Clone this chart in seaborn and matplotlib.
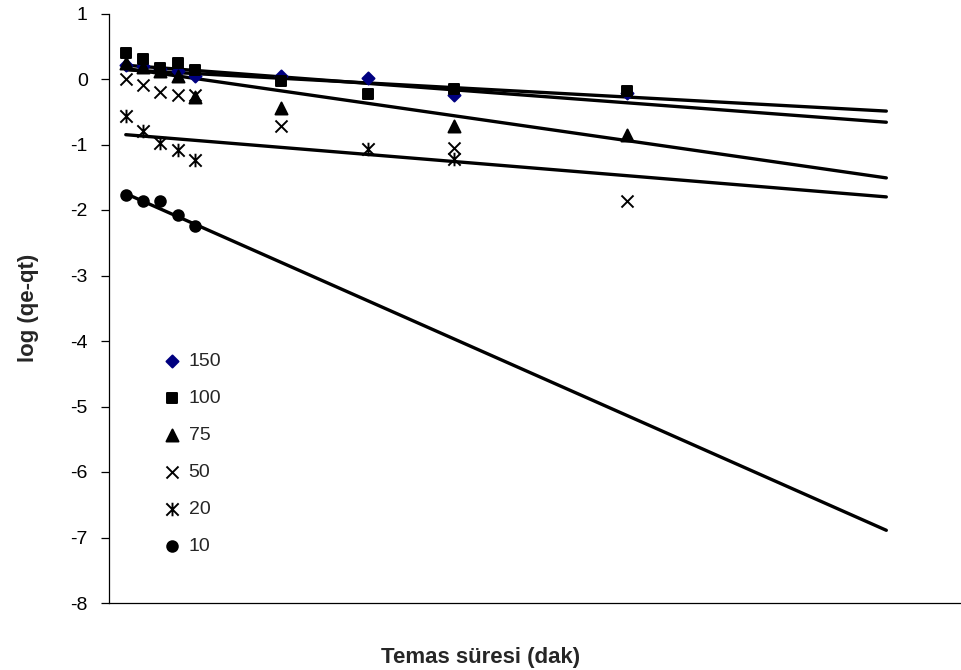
import numpy as np
import matplotlib
matplotlib.use("Agg")
import matplotlib.pyplot as plt
import seaborn as sns
from matplotlib.path import Path

sns.set_style("ticks")
plt.rcParams['font.family'] = ['Liberation Sans', 'DejaVu Sans']
plt.rcParams['axes.unicode_minus'] = False

# contact time (min)
time_min = [5, 10, 15, 20, 25, 50, 75, 100, 150]

# log(qe-qt) for each initial concentration
log_150 = [0.22, 0.20, 0.15, 0.12, 0.04, 0.05, 0.02, -0.24, -0.21]
log_100 = [0.40, 0.31, 0.17, 0.24, 0.14, -0.03, -0.23, -0.16, -0.18]
log_75 = [0.24, 0.18, 0.12, 0.04, -0.27, -0.44, np.nan, -0.72, -0.86]
log_50 = [0.00, -0.09, -0.20, -0.24, -0.24, -0.71, np.nan, -1.06, -1.87]
log_20 = [-0.57, -0.79, -0.97, -1.08, -1.23, np.nan, -1.07, -1.22, np.nan]
log_10 = [-1.77, -1.87, -1.87, -2.07, -2.25, np.nan, np.nan, np.nan, np.nan]

# linear trendlines (forecast forward), value at start and end
trend_x = [5, 225]
trend_150 = [0.14, -0.49]
trend_100 = [0.21, -0.66]
trend_75 = [0.16, -1.51]
trend_20 = [-0.85, -1.80]
trend_10 = [-1.75, -6.89]

# Excel style star marker: X with a vertical bar
star = Path([(-1, -1), (1, 1), (-1, 1), (1, -1), (0, -1.1), (0, 1.1)],
            [Path.MOVETO, Path.LINETO, Path.MOVETO, Path.LINETO, Path.MOVETO, Path.LINETO])

series = [
    ("150", log_150, "D", "#000080", 38),
    ("100", log_100, "s", "black", 52),
    ("75", log_75, "^", "black", 75),
    ("50", log_50, "x", "black", 75),
    ("20", log_20, star, "black", 95),
    ("10", log_10, "o", "black", 58),
]

fig = plt.figure(figsize=(9.62, 6.7), dpi=100)
ax = fig.add_axes([108.5 / 962, 67 / 670, (962 - 108.5) / 962, 589.5 / 670])

for lab, vals, mk, col, size in series:
    sns.scatterplot(x=time_min, y=vals, marker=mk, color=col, edgecolor=col,
                    s=size, linewidth=1.4, label=lab, ax=ax, zorder=3)

for tr in [trend_150, trend_100, trend_75, trend_20, trend_10]:
    sns.lineplot(x=trend_x, y=tr, color="black", linewidth=2.4, ax=ax, zorder=2)

ax.set_xlim(0, (962 - 108.5) / 3.457)
ax.set_ylim(-8, 1)
ax.set_yticks(range(-8, 2))
ax.set_xticks([])
sns.despine(ax=ax)
for sp in ["left", "bottom"]:
    ax.spines[sp].set_linewidth(0.9)
    ax.spines[sp].set_color("black")
ax.tick_params(axis="y", length=6, width=0.9, labelsize=14, pad=9, colors="black")

ax.set_ylabel("log (qe-qt)", fontsize=16, fontweight="bold")
ax.yaxis.set_label_coords(-0.082, 0.5)
ax.set_xlabel("Temas süresi (dak)", fontsize=16, fontweight="bold")
ax.xaxis.set_label_coords(0.436, -0.074)

ax.legend(loc="upper left", bbox_to_anchor=(0.063, 0.425), frameon=False,
          fontsize=14, handlelength=1.0, handletextpad=0.35, labelspacing=1.0,
          borderpad=0, borderaxespad=0, scatterpoints=1)

fig.savefig("out.png", dpi=100)
